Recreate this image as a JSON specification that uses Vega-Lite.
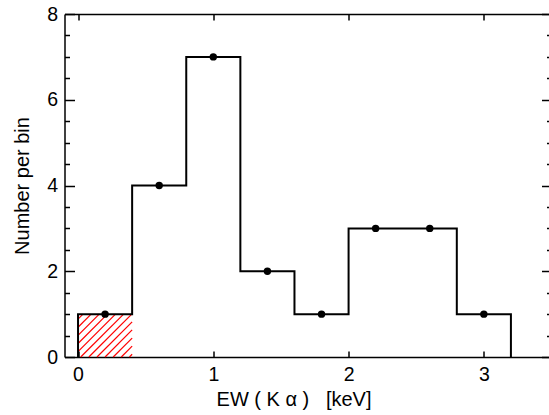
{
  "$schema": "https://vega.github.io/schema/vega-lite/v6.json",
  "autosize": "none",
  "width": 487,
  "height": 343,
  "padding": {"left": 64.5, "top": 14, "right": 0, "bottom": 58},
  "background": "white",
  "config": {
    "view": {"stroke": null},
    "axis": {
      "domainColor": "black", "domainWidth": 1.5,
      "tickColor": "black", "tickWidth": 1.5,
      "labelFont": "Liberation Sans", "labelFontSize": 19.5, "labelColor": "black",
      "titleFont": "Liberation Sans", "titleFontSize": 20, "titleFontWeight": "normal", "titleColor": "black",
      "grid": false, "labelOverlap": false, "labelBound": false, "labelFlush": false
    }
  },
  "datasets": {
    "bins": [
      {"mid": 0.2, "n": 1}, {"mid": 0.6, "n": 4}, {"mid": 1.0, "n": 7}, {"mid": 1.4, "n": 2},
      {"mid": 1.8, "n": 1}, {"mid": 2.2, "n": 3}, {"mid": 2.6, "n": 3}, {"mid": 3.0, "n": 1}
    ],
    "edges": [
      {"x": 0, "y": 0}, {"x": 0, "y": 1}, {"x": 0.4, "y": 4}, {"x": 0.8, "y": 7}, {"x": 1.2, "y": 2},
      {"x": 1.6, "y": 1}, {"x": 2.0, "y": 3}, {"x": 2.4, "y": 3}, {"x": 2.8, "y": 1}, {"x": 3.2, "y": 0}
    ],
    "hatch": [
      {"x": 0.38, "y": 0, "x2": 0.4, "y2": 0.063},
      {"x": 0.32, "y": 0, "x2": 0.4, "y2": 0.252},
      {"x": 0.26, "y": 0, "x2": 0.4, "y2": 0.442},
      {"x": 0.20, "y": 0, "x2": 0.4, "y2": 0.631},
      {"x": 0.14, "y": 0, "x2": 0.4, "y2": 0.820},
      {"x": 0.08, "y": 0, "x2": 0.397, "y2": 1},
      {"x": 0.02, "y": 0, "x2": 0.337, "y2": 1},
      {"x": 0, "y": 0.126, "x2": 0.277, "y2": 1},
      {"x": 0, "y": 0.315, "x2": 0.217, "y2": 1},
      {"x": 0, "y": 0.505, "x2": 0.157, "y2": 1},
      {"x": 0, "y": 0.694, "x2": 0.097, "y2": 1},
      {"x": 0, "y": 0.883, "x2": 0.037, "y2": 1}
    ]
  },
  "resolve": {"axis": {"x": "independent", "y": "independent"}},
  "layer": [
    {
      "data": {"name": "hatch"},
      "mark": {"type": "rule", "color": "#ff0000", "strokeWidth": 1.2},
      "encoding": {
        "x": {"field": "x", "type": "quantitative",
          "scale": {"domain": [-0.1, 3.5], "nice": false, "zero": false},
          "axis": {"orient": "bottom", "values": [0, 1, 2, 3], "format": "d", "tickSize": -6, "labelPadding": 14,
            "title": "EW ( K α )\u00a0\u00a0\u00a0[keV]", "titlePadding": 6, "titleX": 229}},
        "y": {"field": "y", "type": "quantitative",
          "scale": {"domain": [0, 8], "nice": false, "zero": false},
          "axis": {"orient": "left",
            "values": [0, 0.5, 1, 1.5, 2, 2.5, 3, 3.5, 4, 4.5, 5, 5.5, 6, 6.5, 7, 7.5, 8],
            "tickSize": {"condition": {"test": "datum.value % 2 === 0", "value": -10}, "value": -5},
            "labelExpr": "datum.value % 2 === 0 ? format(datum.value, 'd') : ''",
            "labelPadding": 17, "title": "Number per bin", "titlePadding": 14}},
        "x2": {"field": "x2"},
        "y2": {"field": "y2"}
      }
    },
    {
      "data": {"name": "edges"},
      "mark": {"type": "line", "interpolate": "step-after", "color": "black", "strokeWidth": 2},
      "encoding": {
        "x": {"field": "x", "type": "quantitative",
          "axis": {"orient": "top", "values": [0, 1, 2, 3], "tickSize": -6, "labels": false, "title": null}},
        "y": {"field": "y", "type": "quantitative",
          "axis": {"orient": "right",
            "values": [0, 0.5, 1, 1.5, 2, 2.5, 3, 3.5, 4, 4.5, 5, 5.5, 6, 6.5, 7, 7.5, 8],
            "tickSize": {"condition": {"test": "datum.value % 2 === 0", "value": -10}, "value": -5},
            "labels": false, "title": null}}
      }
    },
    {
      "data": {"name": "bins"},
      "mark": {"type": "circle", "color": "black", "opacity": 1, "size": 55},
      "encoding": {
        "x": {"field": "mid", "type": "quantitative", "axis": null},
        "y": {"field": "n", "type": "quantitative", "axis": null}
      }
    }
  ]
}
